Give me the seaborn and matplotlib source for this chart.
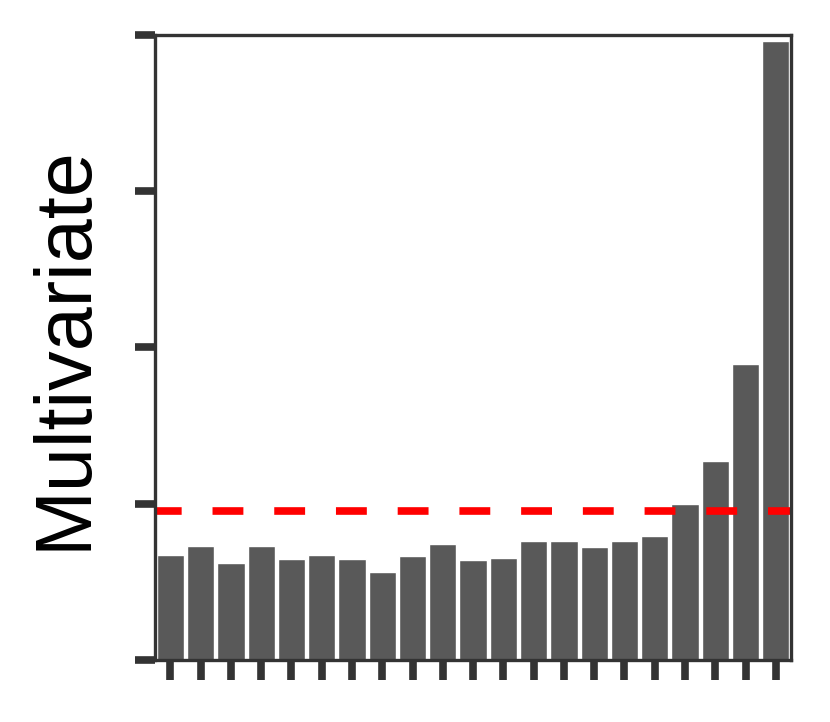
import numpy as np
import pandas as pd
import matplotlib
matplotlib.use("Agg")
import matplotlib.pyplot as plt
import seaborn as sns

# bar heights (y axis runs 0..4, ticks unlabeled)
positions = list(range(21))
scores = [0.67, 0.73, 0.62, 0.73, 0.645, 0.67, 0.645, 0.56, 0.665, 0.74,
          0.64, 0.65, 0.76, 0.76, 0.725, 0.76, 0.79, 1.0, 1.27, 1.89, 3.96]
threshold = 0.95

df = pd.DataFrame({"pos": positions, "score": scores})

sns.set_style("ticks")
plt.rcParams['font.family'] = ['Liberation Sans', 'DejaVu Sans']

fig = plt.figure(figsize=(8.3, 7.22), dpi=100)
ax = fig.add_axes([0.187, 0.086, 0.766, 0.866])

sns.barplot(data=df, x="pos", y="score", color="#595959", saturation=1,
            width=0.9, edgecolor="white", linewidth=1, ax=ax)
ax.axhline(threshold, color="red", lw=5.5, ls=(0.55, (4.04, 4.04)))

ax.set_ylim(0, 4)
ax.set_xlim(-0.5, 20.5)
ax.set_yticks([0, 1, 2, 3, 4])
ax.set_yticklabels([])
ax.set_xticklabels([])
ax.set_xlabel("")
ax.set_ylabel("Multivariate", fontsize=57, labelpad=20, color="black")

for s in ax.spines.values():
    s.set_linewidth(2.4)
    s.set_color("#333333")
ax.tick_params(axis="both", length=14.5, width=5.5, color="#333333", direction="out")

fig.savefig("out.png", dpi=100)
